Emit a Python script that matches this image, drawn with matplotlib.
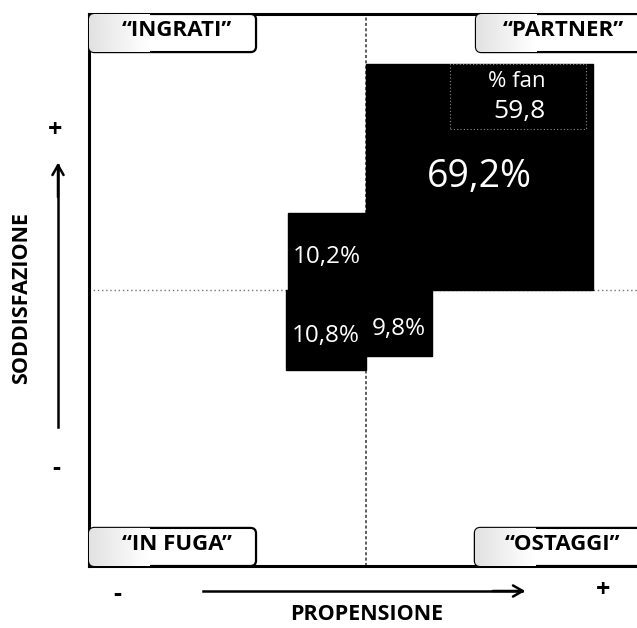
import numpy as np
import matplotlib
matplotlib.use("Agg")
import matplotlib.pyplot as plt
from matplotlib.patches import Rectangle, FancyBboxPatch

plt.rcParams["font.family"] = ["Open Sans", "DejaVu Sans"]

# ===================== dati =====================
segments = ["“INGRATI”", "“PARTNER”", "“IN FUGA”", "“OSTAGGI”"]
shares = [10.2, 69.2, 10.8, 9.8]            # % clienti per quadrante
box_side = [0.28, 0.82, 0.29, 0.24]         # lato del quadrato (unità asse)
quad_dir = [(-1, 1), (1, 1), (-1, -1), (1, -1)]
fan_share = 59.8
x_title = "PROPENSIONE"
y_title = "SODDISFAZIONE"

W, H = 637, 628
fig = plt.figure(figsize=(W / 100, H / 100), dpi=100)


def fx(px):
    return px / W


def fy(py):
    return 1 - py / H


# riquadro principale: centro a (366, 290) px
ax = fig.add_axes([fx(89), fy(566), fx(643) - fx(89), fy(14) - fy(566)])
ax.set_xlim(-1, 1)
ax.set_ylim(-1, 1)
ax.set_xticks([])
ax.set_yticks([])
for s in ["top", "left", "bottom"]:
    ax.spines[s].set_linewidth(2.2)
ax.spines["right"].set_visible(False)

# linee di separazione dei quadranti
ax.axvline(0, color="0.2", lw=1.1, ls=(0, (2, 1.5)), zorder=1)
ax.axhline(0, color="0.45", lw=1.0, ls=(0, (1, 2)), zorder=1)

# quadrati neri
for (dx, dy), side, v in zip(quad_dir, box_side, shares):
    x0 = 0 if dx > 0 else -side
    y0 = 0 if dy > 0 else -side
    ax.add_patch(Rectangle((x0, y0), side, side, facecolor="black", edgecolor="black", zorder=2))
    txt = f"{v:.1f}%".replace(".", ",")
    big = side > 0.5
    ax.text(dx * side / 2, dy * side / 2 - (0 if big else 0.02), txt, color="white",
            fontsize=27 if big else 17.5, ha="center", va="center", zorder=4)

# riquadro "% fan" dentro PARTNER
ax.add_patch(Rectangle((0.305, 0.585), 0.49, 0.235, fill=False, edgecolor="0.55",
                       lw=0.8, ls=(0, (1, 2)), zorder=3))
ax.text(0.545, 0.755, "% fan", color="white", fontsize=16, ha="center", va="center", zorder=4)
ax.text(0.553, 0.645, f"{fan_share:.1f}".replace(".", ","), color="white", fontsize=19,
        ha="center", va="center", zorder=4)

# etichette dei quadranti
label_boxes = [(-1.0, 0.862), (0.397, 0.862), (-1.0, -1.0), (0.393, -1.0)]
grad = np.linspace(0.78, 1.0, 64) ** 0.5
grad = np.tile(grad, (8, 1))
for (bx, by), name in zip(label_boxes, segments):
    bw, bh = 0.603, 0.138
    patch = FancyBboxPatch((bx, by), bw, bh, boxstyle="round,pad=0,rounding_size=0.02",
                           facecolor="white", edgecolor="black", lw=1.6, zorder=5)
    ax.add_patch(patch)
    im = ax.imshow(np.minimum(grad, 1), extent=(bx, bx + 0.22, by, by + bh), cmap="gray",
                   vmin=0, vmax=1, aspect="auto", zorder=5.5)
    im.set_clip_path(patch)
    ax.text(bx + bw / 2 + 0.015, by + bh / 2 + 0.01, name, fontsize=16, fontweight="bold",
            ha="center", va="center", zorder=6)
ax.set_xlim(-1, 1)
ax.set_ylim(-1, 1)

# assi esterni con frecce
fig.add_artist(plt.Line2D([fx(58), fx(58)], [fy(427), fy(165)], color="black", lw=1.8))
ax.annotate("", xy=(fx(58), fy(160)), xytext=(fx(58), fy(200)), xycoords="figure fraction",
            textcoords="figure fraction",
            arrowprops=dict(arrowstyle="->,head_length=0.7,head_width=0.4", lw=1.8, color="black"))
fig.text(fx(55), fy(130), "+", fontsize=18, fontweight="bold", ha="center", va="center")
fig.text(fx(56), fy(468), "-", fontsize=18, fontweight="bold", ha="center", va="center")
fig.text(fx(22), fy(298), y_title, fontsize=15.5, fontweight="bold", rotation=90,
         ha="center", va="center")

fig.add_artist(plt.Line2D([fx(203), fx(522)], [fy(591), fy(591)], color="black", lw=1.8))
ax.annotate("", xy=(fx(528), fy(591)), xytext=(fx(490), fy(591)), xycoords="figure fraction",
            textcoords="figure fraction",
            arrowprops=dict(arrowstyle="->,head_length=0.7,head_width=0.4", lw=1.8, color="black"))
fig.text(fx(117), fy(594), "-", fontsize=18, fontweight="bold", ha="center", va="center")
fig.text(fx(603), fy(590), "+", fontsize=18, fontweight="bold", ha="center", va="center")
fig.text(fx(367), fy(615), x_title, fontsize=15.5, fontweight="bold", ha="center", va="center")

fig.savefig("out.png", dpi=100)
